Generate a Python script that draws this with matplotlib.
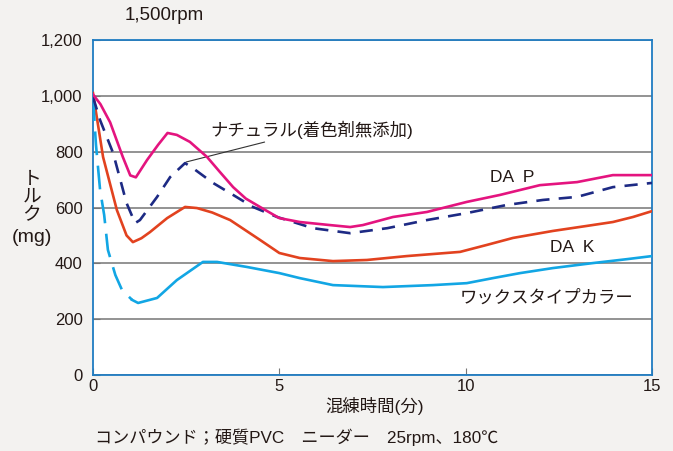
import numpy as np
import matplotlib.pyplot as plt

plt.rcParams['font.family'] = ['Liberation Sans', 'Noto Sans CJK JP', 'DejaVu Sans']

# DA P
dap_x = [0, 0.2, 0.46, 0.8, 1.0, 1.15, 1.45, 1.75, 2.0, 2.25, 2.6, 3.06, 3.4,
         3.76, 4.1, 4.48, 5.0, 5.55, 6.36, 6.9, 7.24, 8.05, 8.96, 10.03,
         10.92, 11.99, 12.99, 13.95, 15]
dap_y = [1005, 970, 905, 781, 715, 708, 770, 825, 867, 860, 835, 781, 728,
         673, 632, 602, 562, 548, 537, 530, 537, 566, 584, 620,
         645, 680, 691, 716, 716]

# ナチュラル(着色剤無添加)
nat_x = [0, 0.19, 0.54, 0.9, 1.13, 1.26, 1.72, 2.07, 2.47, 2.68, 3.22, 3.76,
         4.29, 4.94, 5.9, 6.9, 7.9, 8.96, 10.03, 11.1, 12.07, 12.99, 13.95, 15]
nat_y = [996, 913, 795, 616, 544, 555, 638, 709, 759, 741, 688, 645,
         602, 566, 526, 508, 526, 555, 580, 609, 627, 638, 673, 688]

# DA K
dak_x = [0, 0.27, 0.64, 0.9, 1.07, 1.3, 1.53, 1.99, 2.47, 2.79, 3.2, 3.68,
         4.48, 5.0, 5.55, 6.44, 7.35, 8.42, 9.85, 10.57, 11.27, 12.34, 13.25,
         13.95, 14.49, 15]
dak_y = [1010, 781, 591, 500, 476, 490, 512, 562, 602, 598, 582, 555,
         484, 437, 419, 408, 412, 426, 441, 466, 491, 516, 534,
         548, 566, 587]

# ワックスタイプカラー (先頭部分は破線)
wax_x = [0, 0.08, 0.19, 0.3, 0.4, 0.6, 0.78, 1.05, 1.21, 1.72, 2.25, 2.95,
         3.33, 4.13, 5.0, 5.55, 6.44, 7.78, 9.12, 10.03, 10.73, 11.46, 12.34,
         13.42, 14.33, 15]
wax_y = [995, 824, 663, 573, 448, 358, 304, 269, 258, 276, 340, 405,
         405, 387, 365, 347, 322, 315, 322, 329, 347, 365, 383,
         401, 415, 426]
wax_split = 7

x_ticks = [0, 5, 10, 15]
y_ticks = [0, 200, 400, 600, 800, 1000, 1200]
y_ticklabels = ["0", "200", "400", "600", "800", "1,000", "1,200"]

txt = "#231815"
fs = 12.5
fig = plt.figure(figsize=(6.73, 4.51), dpi=100, facecolor="#f3f2f0")
ax = fig.add_axes([93 / 673, 76 / 451, 559 / 673, 335 / 451])
ax.set_facecolor("white")

lw = 1.9
ax.plot(dak_x, dak_y, color="#e2421f", lw=lw, zorder=3)
ax.plot(wax_x[:wax_split + 1], wax_y[:wax_split + 1], color="#12a6e4", lw=lw,
        linestyle=(0, (9, 4)), zorder=3)
ax.plot(wax_x[wax_split:], wax_y[wax_split:], color="#12a6e4", lw=lw, zorder=3)
ax.plot(nat_x, nat_y, color="#1d2a84", lw=lw, linestyle=(0, (5, 3.5)), zorder=4)
ax.plot(dap_x, dap_y, color="#e4147f", lw=lw, zorder=5)

ax.set_xlim(0, 15)
ax.set_ylim(0, 1200)
ax.set_xticks(x_ticks)
ax.set_yticks(y_ticks)
ax.set_yticklabels(y_ticklabels)
ax.tick_params(direction="in", length=5, color="#777777", labelcolor=txt,
               labelsize=12)
ax.tick_params(axis="y", pad=7.5)
ax.tick_params(axis="x", pad=3)
ax.grid(axis="y", color="#8a8a8a", lw=1.3)
ax.set_axisbelow(True)
for s in ax.spines.values():
    s.set_color("#1f7cc2")
    s.set_linewidth(1.3)

# ラベル
ax.annotate("ナチュラル(着色剤無添加)", xy=(2.5, 763), xytext=(3.14, 877),
            fontsize=fs, color=txt, va="center", ha="left",
            arrowprops=dict(arrowstyle="-", color="#333333", lw=0.8,
                            shrinkA=0, shrinkB=0))
ax.text(11.24, 709, "DA  P", fontsize=fs, color=txt, ha="center", va="center")
ax.text(12.85, 455, "DA  K", fontsize=fs, color=txt, ha="center", va="center")
ax.text(9.85, 279, "ワックスタイプカラー", fontsize=fs, color=txt,
        ha="left", va="center")

# 縦書きの軸ラベル
for ch, py in zip("トルク", [179, 197, 215]):
    fig.text(32 / 673, 1 - py / 451, ch, fontsize=13.5, color=txt,
             ha="center", va="center")
fig.text(32 / 673, 1 - 238 / 451, "(mg)", fontsize=14, color=txt,
         ha="center", va="center")
fig.text(375 / 673, 1 - 406 / 451, "混練時間(分)", fontsize=fs, color=txt,
         ha="center", va="center")
fig.text(125 / 673, 1 - 16 / 451, "1,500rpm", fontsize=13.5, color=txt,
         ha="left", va="center")
fig.text(95 / 673, 1 - 437 / 451, "コンパウンド；硬質PVC　ニーダー　25rpm、180℃",
         fontsize=12.3, color=txt, ha="left", va="center")

fig.savefig("out.png", dpi=100, facecolor=fig.get_facecolor())
